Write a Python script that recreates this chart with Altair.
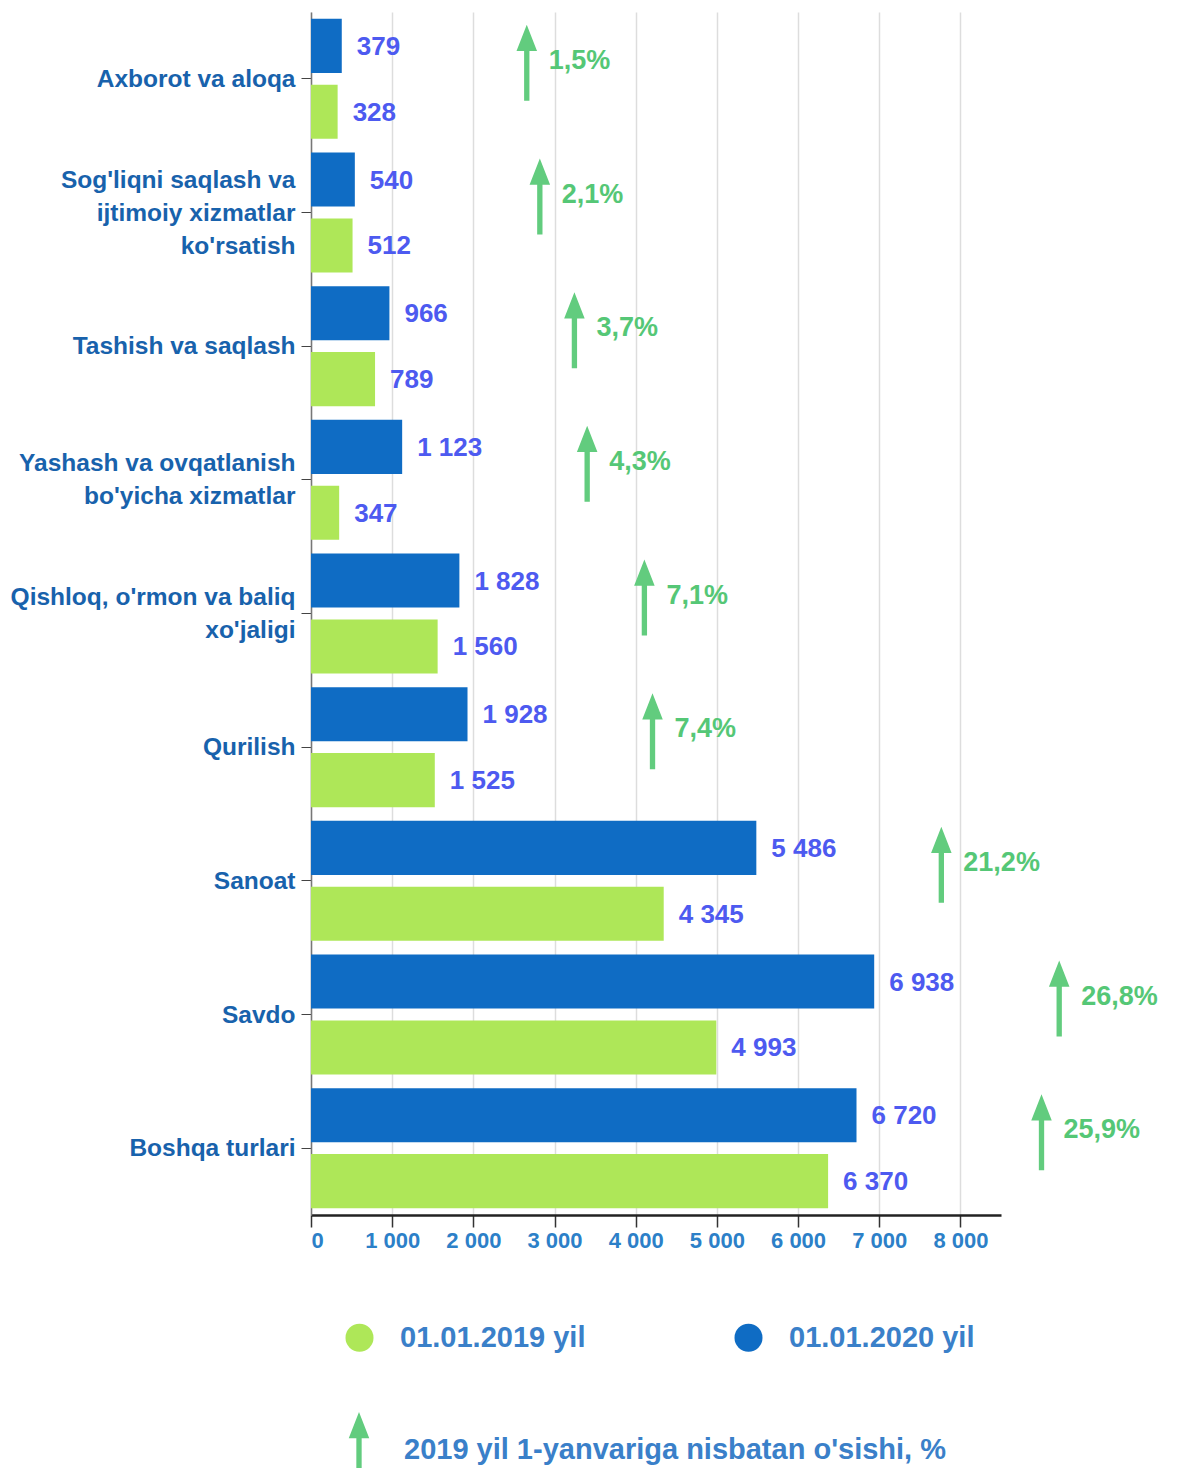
import altair as alt
import pandas as pd

# ---- data ----
categories = [
    "Axborot va aloqa",
    "Sog'liqni saqlash va\nijtimoiy xizmatlar\nko'rsatish",
    "Tashish va saqlash",
    "Yashash va ovqatlanish\nbo'yicha xizmatlar",
    "Qishloq, o'rmon va baliq\nxo'jaligi",
    "Qurilish",
    "Sanoat",
    "Savdo",
    "Boshqa turlari",
]
values_2020 = [379, 540, 966, 1123, 1828, 1928, 5486, 6938, 6720]
values_2019 = [328, 512, 789, 347, 1560, 1525, 4345, 4993, 6370]
growth_pct = [1.5, 2.1, 3.7, 4.3, 7.1, 7.4, 21.2, 26.8, 25.9]
series_names = ["01.01.2019 yil", "01.01.2020 yil"]
x_ticks = [0, 1000, 2000, 3000, 4000, 5000, 6000, 7000, 8000]
arrow_legend_label = "2019 yil 1-yanvariga nisbatan o'sishi, %"

# ---- styles ----
FONT = "Liberation Sans"
BLUE = "#0f6cc4"
GREEN = "#aee758"
VALUE_TXT = "#4d5af0"
PCT_TXT = "#55c776"
ARROW = "#62cc7e"
CAT_TXT = "#1862ac"
AXIS_TXT = "#2c80c8"
LEG_TXT = "#3a80c9"
ARROW_PATH = "M0,-1 L0.27,-0.31 L0.07,-0.31 L0.07,1 L-0.07,1 L-0.07,-0.31 L-0.27,-0.31 Z"
ARROW_DX = 185
ARROW_DY = -16
LINE_H = 33

bars = pd.DataFrame(
    [{"category": c, "series": series_names[1], "value": v} for c, v in zip(categories, values_2020)]
    + [{"category": c, "series": series_names[0], "value": v} for c, v in zip(categories, values_2019)]
)
arrows = pd.DataFrame(
    {"category": categories, "v2020": values_2020, "pct": growth_pct, "leg": [arrow_legend_label] * len(categories)}
)

label_offset = {
    "condition": [
        {"test": "length(split(datum.value, '\\n')) == 3", "value": 1 - LINE_H},
        {"test": "length(split(datum.value, '\\n')) == 2", "value": 1 - LINE_H / 2},
    ],
    "value": 1,
}

y_enc = alt.Y(
    "category:N",
    sort=categories,
    title=None,
    scale=alt.Scale(paddingInner=0, paddingOuter=0),
    axis=alt.Axis(
        labelExpr="split(datum.label, '\\n')",
        labelFont=FONT,
        labelFontSize=24.5,
        labelFontWeight="bold",
        labelColor=CAT_TXT,
        labelLineHeight=LINE_H,
        labelOffset=label_offset,
        labelPadding=6,
        labelLimit=400,
        tickSize=10,
        tickColor="#444444",
        domainColor="#777777",
        domainWidth=1.5,
        grid=False,
    ),
)
yoff = alt.YOffset(
    "series:N",
    sort=[series_names[1], series_names[0]],
    scale=alt.Scale(paddingInner=0.18, paddingOuter=0.104),
)
x_scale = alt.Scale(domain=[0, 8500], nice=False)

bar_layer = alt.Chart(bars).mark_bar().encode(
    y=y_enc,
    yOffset=yoff,
    x=alt.X(
        "value:Q",
        scale=x_scale,
        title=None,
        axis=alt.Axis(
            values=x_ticks,
            format=",d",
            labelExpr="replace(datum.label, ',', ' ')",
            labelFont=FONT,
            labelFontSize=22,
            labelFontWeight="bold",
            labelColor=AXIS_TXT,
            labelPadding=3,
            tickSize=12,
            tickWidth=1.5,
            tickColor="#333333",
            domainColor="#222222",
            domainWidth=2.5,
            grid=True,
            gridColor="#dddddd",
            gridWidth=1.5,
        ),
    ),
    color=alt.Color(
        "series:N",
        scale=alt.Scale(domain=series_names, range=[GREEN, BLUE]),
        legend=alt.Legend(
            orient="none",
            legendX=34,
            legendY=1311,
            direction="horizontal",
            columns=2,
            title=None,
            symbolType="circle",
            symbolSize=784,
            symbolOpacity=1,
            symbolStrokeWidth=0,
            labelFont=FONT,
            labelFontSize=29,
            labelFontWeight="bold",
            labelColor=LEG_TXT,
            labelOffset=26,
            columnPadding=148,
            padding=0,
            labelLimit=400,
        ),
    ),
)

value_layer = alt.Chart(bars).transform_calculate(
    lbl="replace(format(datum.value, ',d'), ',', ' ')"
).mark_text(
    align="left", baseline="middle", dx=15, dy=1, font=FONT, fontSize=26, fontWeight="bold", color=VALUE_TXT
).encode(
    y=alt.Y("category:N", sort=categories),
    yOffset=yoff,
    x=alt.X("value:Q", scale=x_scale),
    text="lbl:N",
)

arrow_layer = alt.Chart(arrows).mark_point(
    filled=True, opacity=1, color=ARROW, size=5776, xOffset=ARROW_DX, yOffset=ARROW_DY, strokeWidth=0
).encode(
    y=alt.Y("category:N", sort=categories),
    x=alt.X("v2020:Q", scale=x_scale),
    shape=alt.Shape(
        "leg:N",
        scale=alt.Scale(range=[ARROW_PATH]),
        legend=alt.Legend(
            orient="none",
            legendX=10,
            legendY=1400,
            title=None,
            symbolSize=5776,
            symbolFillColor=ARROW,
            symbolStrokeColor=ARROW,
            symbolStrokeWidth=0,
            symbolOpacity=1,
            labelFont=FONT,
            labelFontSize=29,
            labelFontWeight="bold",
            labelColor=LEG_TXT,
            labelOffset=7,
            padding=0,
            labelLimit=800,
        ),
    ),
)

pct_layer = alt.Chart(arrows).transform_calculate(
    lbl="replace(format(datum.pct, '.1f'), '.', ',') + '%'"
).mark_text(
    align="left", baseline="middle", xOffset=ARROW_DX, yOffset=ARROW_DY, dx=22, dy=-2,
    font=FONT, fontSize=27, fontWeight="bold", color=PCT_TXT
).encode(
    y=alt.Y("category:N", sort=categories),
    x=alt.X("v2020:Q", scale=x_scale),
    text="lbl:N",
)

chart = (
    alt.layer(bar_layer, value_layer, arrow_layer, pct_layer)
    .properties(width=690, height=1203, padding={"left": 2, "top": 4, "right": 2, "bottom": 2})
    .configure_view(stroke=None)
)

chart.save("out.html", embed_options={"renderer": "svg", "actions": False})
